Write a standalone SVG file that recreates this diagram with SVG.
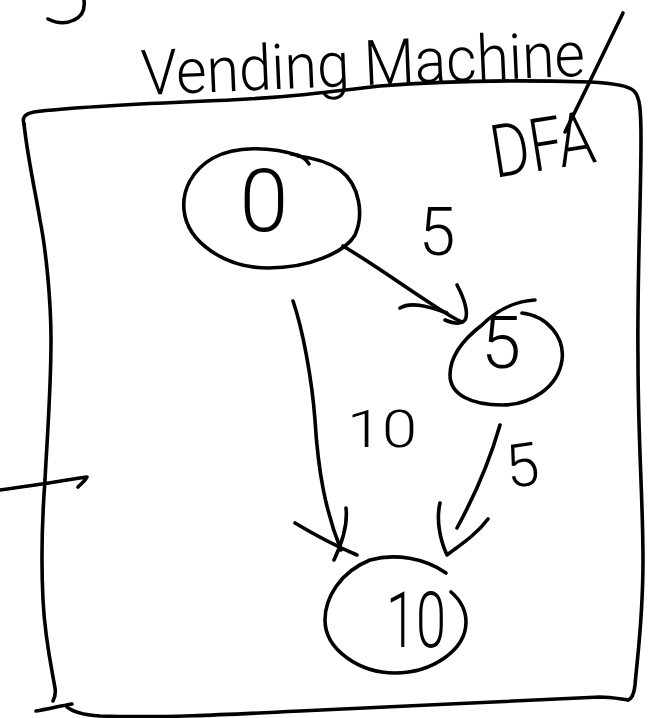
<svg xmlns="http://www.w3.org/2000/svg" width="658" height="718" viewBox="0 0 658 718">
  <style>
    .ink { fill: none; stroke: #000; stroke-width: 3.6; stroke-linecap: round; stroke-linejoin: round; }
    .hand { fill: #000; font-family: Roboto, "Liberation Sans", "DejaVu Sans", sans-serif; font-weight: 300; }
  </style>
  <rect width="658" height="718" fill="#fff"/>

  <!-- stray pen stroke at the top-left -->
  <path class="ink" d="M84,0 C85,8 83,16 74,20 C66,24 56,23 48,19"/>

  <!-- title -->
  <g id="title">
    <text class="hand" x="142" y="95" font-size="63" textLength="444" lengthAdjust="spacingAndGlyphs" transform="rotate(-2.5 142 95)">Vending Machine</text>
    <path class="ink" d="M623,13 C605,50 585,92 565,132"/>
    <text class="hand" x="495" y="178" font-size="74" textLength="104" lengthAdjust="spacingAndGlyphs" transform="rotate(-9 495 178)">DFA</text>
  </g>

  <!-- outer frame of the machine -->
  <g id="frame">
    <path class="ink" d="M24,124 C22,118 24,114 34,112 C80,106 160,103 230,100 C290,97 330,92 380,86 C440,81 520,80 590,82 C612,83 628,85 634,91 C640,97 641,110 641,140 C641,200 637,280 638,360 C638,440 643,500 643,560 C643,620 637,660 635,685 C634,694 632,699 628,700"/>
    <path class="ink" d="M24,124 C28,160 35,190 40,220 C46,250 51,300 51,340 C51,390 47,440 45,480 C42,520 41,560 43,600 C45,640 52,670 55,688 C56,694 54,699 53,701"/>
    <path class="ink" d="M36,711 C48,709 60,706 72,704"/>
    <path class="ink" d="M66,706 C72,712 84,715 100,716 C160,718 220,715 300,711 C400,706 500,702 600,697 C612,697 620,699 628,700"/>
  </g>

  <!-- start arrow into the machine -->
  <g id="start">
    <path class="ink" d="M0,490 C30,486 60,481 87,477 C85,481 81,484 78,487"/>
  </g>

  <!-- transitions -->
  <g id="connectors">
    <g id="edge-0-5">
      <path class="ink" d="M343,246 C375,265 405,287 430,303 C445,313 455,319 462,322"/>
      <path class="ink" d="M457,285 C464,298 469,313 465,320 C461,325 452,323 445,320"/>
      <path class="ink" d="M400,308 C410,302 425,305 447,313"/>
      <text class="hand" x="437" y="255" font-size="66" text-anchor="middle">5</text>
    </g>
    <g id="edge-0-10">
      <path class="ink" d="M293,301 C303,330 312,380 315,420 C318,470 325,510 341,550"/>
      <path class="ink" d="M295,523 C315,535 338,547 357,555"/>
      <path class="ink" d="M346,508 C348,525 342,543 334,560"/>
      <text class="hand" x="347" y="447" font-size="52" textLength="70" lengthAdjust="spacingAndGlyphs">10</text>
    </g>
    <g id="edge-5-10">
      <path class="ink" d="M500,425 C490,460 475,495 457,528"/>
      <path class="ink" d="M440,503 C436,520 440,540 447,555 C460,545 476,535 488,519"/>
      <text class="hand" x="525" y="486" font-size="60" text-anchor="middle" transform="rotate(-8 525 486)">5</text>
    </g>
  </g>

  <!-- states -->
  <g id="node-0">
    <path class="ink" d="M300,156 C270,146 235,146 213,158 C192,170 182,190 184,210 C187,242 225,268 268,268 C310,268 345,252 355,235 C364,215 360,185 340,170 C328,162 315,158 298,156"/>
    <path class="ink" d="M291,154 C300,155 306,158 309,164"/>
    <text class="hand" x="264" y="231" font-size="88" text-anchor="middle">0</text>
  </g>
  <g id="node-5">
    <path class="ink" d="M522,313 C548,316 565,338 562,360 C558,388 530,405 502,405 C472,405 450,395 450,375 C450,355 465,338 482,325 C496,311 515,301 535,300"/>
    <text class="hand" x="501" y="368" font-size="72" text-anchor="middle">5</text>
  </g>
  <g id="node-10">
    <path class="ink" d="M446,573 C425,558 395,553 370,560 C340,572 325,598 325,620 C325,650 360,673 395,673 C432,673 466,650 466,622 C466,607 458,598 451,592"/>
    <text class="hand" x="386" y="647" font-size="78" textLength="60" lengthAdjust="spacingAndGlyphs">10</text>
  </g>
</svg>
